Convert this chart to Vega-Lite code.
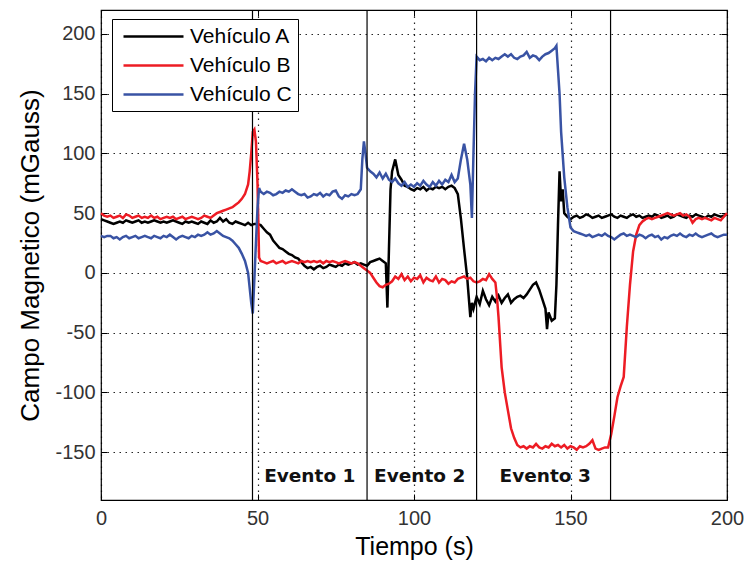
{
  "$schema": "https://vega.github.io/schema/vega-lite/v6.json",
  "width": 626,
  "height": 490,
  "autosize": "none",
  "padding": {"left": 101, "top": 10, "right": 22, "bottom": 70},
  "background": "white",
  "config": {
    "view": {"stroke": "black", "strokeWidth": 1.2},
    "font": "Liberation Sans"
  },
  "datasets": {
    "series": [
      {"t":0,"A":45,"B":50,"C":31},{"t":1,"A":44,"B":48,"C":30},{"t":2,"A":43,"B":47,"C":31},{"t":3,"A":42,"B":48,"C":31},
      {"t":4,"A":41,"B":46,"C":29},{"t":5,"A":42,"B":47,"C":30},{"t":6,"A":43,"B":48,"C":28},{"t":7,"A":42,"B":46,"C":30},
      {"t":8,"A":44,"B":49,"C":31},{"t":9,"A":43,"B":48,"C":29},{"t":10,"A":42,"B":46,"C":30},{"t":11,"A":43,"B":47,"C":31},
      {"t":12,"A":44,"B":48,"C":29},{"t":13,"A":42,"B":46,"C":30},{"t":14,"A":43,"B":47,"C":31},{"t":15,"A":42,"B":46,"C":30},
      {"t":16,"A":43,"B":48,"C":29},{"t":17,"A":44,"B":46,"C":31},{"t":18,"A":43,"B":47,"C":30},{"t":19,"A":42,"B":45,"C":29},
      {"t":20,"A":43,"B":46,"C":31},{"t":21,"A":42,"B":47,"C":30},{"t":22,"A":43,"B":46,"C":32},{"t":23,"A":44,"B":47,"C":30},
      {"t":24,"A":43,"B":45,"C":28},{"t":25,"A":42,"B":46,"C":30},{"t":26,"A":41,"B":47,"C":31},{"t":27,"A":43,"B":45,"C":30},
      {"t":28,"A":42,"B":46,"C":29},{"t":29,"A":43,"B":47,"C":31},{"t":30,"A":42,"B":46,"C":30},{"t":31,"A":41,"B":45,"C":32},
      {"t":32,"A":43,"B":46,"C":31},{"t":33,"A":42,"B":48,"C":32},{"t":34,"A":41,"B":47,"C":34},{"t":35,"A":44,"B":46,"C":32},
      {"t":36,"A":42,"B":48,"C":33},{"t":37,"A":43,"B":50,"C":35},{"t":38,"A":46,"B":51,"C":33},{"t":39,"A":43,"B":52,"C":31},
      {"t":40,"A":45,"B":53,"C":30},{"t":41,"A":42,"B":54,"C":29},{"t":42,"A":41,"B":55,"C":27},{"t":43,"A":43,"B":57,"C":24},
      {"t":44,"A":42,"B":59,"C":21},{"t":45,"A":41,"B":62,"C":16},{"t":46,"A":40,"B":66,"C":10},{"t":47,"A":42,"B":74,"C":0},
      {"t":47.5,"B":85},{"t":48,"A":40,"B":100,"C":-25},{"t":48.5,"B":118,"C":-34},{"t":49,"A":41,"B":120,"C":-5},
      {"t":49.5,"B":110,"C":25},{"t":50,"A":41,"B":75,"C":54},{"t":50.5,"B":13,"C":71},
      {"t":51,"A":40,"B":10,"C":68},{"t":52,"A":37,"B":9,"C":66},{"t":53,"A":34,"B":8,"C":68},{"t":54,"A":32,"B":9,"C":67},
      {"t":55,"A":27,"B":10,"C":65},{"t":56,"A":24,"B":8,"C":66},{"t":57,"A":21,"B":9,"C":68},{"t":58,"A":20,"B":10,"C":67},
      {"t":59,"A":18,"B":8,"C":69},{"t":60,"A":16,"B":9,"C":68},{"t":61,"A":15,"B":10,"C":70},{"t":62,"A":13,"B":9,"C":68},
      {"t":63,"A":12,"B":8,"C":66},{"t":64,"A":9,"B":10,"C":65},{"t":65,"A":6,"B":9,"C":66},{"t":66,"A":4,"B":10,"C":63},
      {"t":67,"A":5,"B":9,"C":64},{"t":68,"A":3,"B":10,"C":66},{"t":69,"A":5,"B":9,"C":65},{"t":70,"A":6,"B":10,"C":67},
      {"t":71,"A":4,"B":8,"C":64},{"t":72,"A":5,"B":10,"C":66},{"t":73,"A":7,"B":9,"C":65},{"t":74,"A":6,"B":10,"C":68},
      {"t":75,"A":5,"B":9,"C":69},{"t":76,"A":7,"B":8,"C":64},{"t":77,"A":6,"B":9,"C":62},{"t":78,"A":8,"B":10,"C":65},
      {"t":79,"A":7,"B":9,"C":64},{"t":80,"A":8,"B":8,"C":66},{"t":81,"A":9,"B":9,"C":65},{"t":82,"A":7,"B":8,"C":66},
      {"t":83,"A":8,"B":6,"C":70},{"t":83.5,"C":95},{"t":84,"A":7,"B":4,"C":110},{"t":84.5,"C":100},
      {"t":85,"A":6,"B":2,"C":88},{"t":86,"A":9,"B":0,"C":85},{"t":87,"A":10,"B":-4,"C":83},{"t":88,"A":11,"B":-8,"C":80},
      {"t":89,"A":12,"B":-11,"C":84},{"t":90,"A":10,"B":-12,"C":79},{"t":91,"A":8,"B":-10,"C":83},{"t":91.5,"A":-29},
      {"t":92,"A":20,"B":-9,"C":78},{"t":92.5,"A":70},{"t":93,"A":85,"B":-7,"C":76},{"t":94,"A":95,"B":-3,"C":79},
      {"t":95,"A":82,"B":-5,"C":75},{"t":96,"A":78,"B":-1,"C":73},{"t":97,"A":73,"B":-6,"C":76},{"t":98,"A":72,"B":-3,"C":72},
      {"t":99,"A":70,"B":-7,"C":74},{"t":100,"A":69,"B":-4,"C":72},{"t":101,"A":71,"B":-5,"C":75},{"t":102,"A":70,"B":-2,"C":73},
      {"t":103,"A":72,"B":-8,"C":77},{"t":104,"A":69,"B":-4,"C":74},{"t":105,"A":71,"B":-6,"C":72},{"t":106,"A":70,"B":-7,"C":76},
      {"t":107,"A":72,"B":-3,"C":73},{"t":108,"A":71,"B":-8,"C":77},{"t":109,"A":72,"B":-5,"C":74},{"t":110,"A":70,"B":-6,"C":78},
      {"t":111,"A":72,"B":-9,"C":76},{"t":112,"A":73,"B":-7,"C":82},{"t":113,"A":71,"B":-8,"C":76},{"t":114,"A":66,"B":-5,"C":79},
      {"t":115,"A":45,"B":-4,"C":95},{"t":116,"A":20,"B":-3,"C":108},{"t":117,"A":-4,"B":-5,"C":95},{"t":118,"A":-37,"B":-4,"C":74},
      {"t":118.5,"A":-25,"C":46},{"t":119,"A":-30,"B":-7,"C":100},{"t":119.5,"C":150},
      {"t":120,"A":-20,"B":-8,"C":181},{"t":121,"A":-26,"B":-7,"C":178},{"t":122,"A":-15,"B":-5,"C":179},{"t":123,"A":-22,"B":-6,"C":177},
      {"t":124,"A":-27,"B":-1,"C":180},{"t":125,"A":-20,"B":-5,"C":178},{"t":126,"A":-24,"B":-8,"C":180},{"t":126.5,"B":-20},
      {"t":127,"A":-19,"B":-37,"C":179},{"t":128,"A":-25,"B":-79,"C":181},{"t":129,"A":-21,"B":-100,"C":183},{"t":130,"A":-18,"B":-115,"C":181},
      {"t":131,"A":-25,"B":-130,"C":183},{"t":132,"A":-22,"B":-138,"C":180},{"t":133,"A":-20,"B":-144,"C":179},{"t":134,"A":-19,"B":-146,"C":181},
      {"t":135,"A":-21,"B":-145,"C":182},{"t":136,"A":-18,"B":-147,"C":185},{"t":137,"A":-14,"B":-145,"C":180},{"t":138,"A":-10,"B":-146,"C":182},
      {"t":139,"A":-8,"B":-143,"C":181},{"t":140,"A":-14,"B":-146,"C":178},{"t":141,"A":-22,"B":-147,"C":181},{"t":142,"A":-30,"B":-145,"C":183},
      {"t":142.5,"A":-47},{"t":143,"A":-33,"B":-146,"C":184},{"t":144,"A":-40,"B":-143,"C":186},{"t":145,"A":-38,"B":-145,"C":188},
      {"t":145.5,"A":-10,"C":190},{"t":146,"A":40,"B":-144,"C":170},{"t":146.5,"A":85,"C":150},{"t":147,"A":60,"B":-146,"C":118},
      {"t":147.5,"A":70},{"t":148,"A":50,"B":-144,"C":80},{"t":149,"A":47,"B":-147,"C":55},{"t":150,"A":45,"B":-145,"C":38},
      {"t":151,"A":47,"B":-146,"C":35},{"t":152,"A":48,"B":-148,"C":34},{"t":153,"A":46,"B":-145,"C":33},{"t":154,"A":47,"B":-146,"C":32},
      {"t":155,"A":49,"B":-145,"C":31},{"t":156,"A":48,"B":-143,"C":32},{"t":157,"A":46,"B":-140,"C":30},{"t":158,"A":47,"B":-147,"C":31},
      {"t":159,"A":48,"B":-148,"C":32},{"t":160,"A":46,"B":-147,"C":31},{"t":161,"A":47,"B":-146,"C":33},{"t":162,"A":48,"B":-146,"C":31},
      {"t":163,"A":49,"B":-135,"C":30},{"t":164,"A":47,"B":-120,"C":28},{"t":165,"A":46,"B":-104,"C":30},{"t":166,"A":48,"B":-95,"C":32},
      {"t":167,"A":47,"B":-87,"C":33},{"t":168,"A":46,"B":-45,"C":31},{"t":169,"A":48,"B":-10,"C":32},{"t":169.5,"B":4},
      {"t":170,"A":49,"B":18,"C":31},{"t":171,"A":47,"B":32,"C":30},{"t":172,"A":48,"B":40,"C":32},{"t":173,"A":46,"B":43,"C":31},
      {"t":174,"A":47,"B":45,"C":29},{"t":175,"A":48,"B":46,"C":31},{"t":176,"A":47,"B":45,"C":32},{"t":177,"A":49,"B":46,"C":30},
      {"t":178,"A":48,"B":47,"C":31},{"t":179,"A":46,"B":48,"C":28},{"t":180,"A":47,"B":49,"C":30},{"t":181,"A":48,"B":50,"C":29},
      {"t":182,"A":46,"B":49,"C":31},{"t":183,"A":47,"B":48,"C":32},{"t":184,"A":49,"B":49,"C":31},{"t":185,"A":48,"B":50,"C":33},
      {"t":186,"A":47,"B":48,"C":31},{"t":187,"A":46,"B":49,"C":30},{"t":188,"A":48,"B":47,"C":32},{"t":189,"A":47,"B":42,"C":31},
      {"t":190,"A":49,"B":45,"C":33},{"t":191,"A":48,"B":46,"C":31},{"t":192,"A":47,"B":45,"C":30},{"t":193,"A":46,"B":46,"C":31},
      {"t":194,"A":48,"B":45,"C":32},{"t":195,"A":47,"B":44,"C":33},{"t":196,"A":49,"B":46,"C":31},{"t":197,"A":48,"B":45,"C":30},
      {"t":198,"A":47,"B":44,"C":31},{"t":199,"A":48,"B":47,"C":32},{"t":200,"A":49,"B":50,"C":32}
    ],
    "eventos": [{"t":48.4},{"t":85},{"t":120},{"t":162.8}],
    "etiquetas": [
      {"t":66.7,"v":-175,"txt":"Evento 1"},
      {"t":101.8,"v":-175,"txt":"Evento 2"},
      {"t":141.9,"v":-175,"txt":"Evento 3"}
    ]
  },
  "layer": [
    {
      "data": {"name": "series"},
      "transform": [
        {"fold": ["A", "B", "C"], "as": ["serie", "v"]},
        {"filter": "isValid(datum.v)"}
      ],
      "mark": {"type": "line", "strokeWidth": 2.5, "interpolate": "linear"},
      "encoding": {
        "x": {
          "field": "t", "type": "quantitative",
          "scale": {"domain": [0, 200], "nice": false, "zero": false},
          "axis": {
            "orient": "bottom", "values": [0, 50, 100, 150, 200],
            "grid": true, "gridColor": "#000", "gridDash": [1.5, 4.5], "gridOpacity": 0.85, "gridWidth": 1.2,
            "tickSize": -6, "tickColor": "black", "domain": false,
            "labelFontSize": 20, "labelColor": "#333", "labelPadding": 14, "labelFont": "Liberation Sans",
            "labelFlush": false,
            "title": "Tiempo (s)", "titleFontSize": 25, "titleFontWeight": "normal", "titleColor": "black",
            "titleFont": "Liberation Sans", "titlePadding": 6
          }
        },
        "y": {
          "field": "v", "type": "quantitative",
          "scale": {"domain": [-190, 220], "nice": false, "zero": false},
          "axis": {
            "orient": "left", "values": [-150, -100, -50, 0, 50, 100, 150, 200],
            "labelExpr": "toString(datum.value)",
            "grid": true, "gridColor": "#000", "gridDash": [1.5, 4.5], "gridOpacity": 0.85, "gridWidth": 1.2,
            "tickSize": -6, "tickColor": "black", "domain": false,
            "labelFontSize": 20, "labelColor": "#333", "labelPadding": 12, "labelFont": "Liberation Sans",
            "labelFlush": false,
            "title": "Campo Magnetico (mGauss)", "titleFontSize": 26, "titleFontWeight": "normal", "titleColor": "black",
            "titleFont": "Liberation Sans", "titlePadding": 11
          }
        },
        "color": {
          "field": "serie", "type": "nominal",
          "scale": {"domain": ["A", "B", "C"], "range": ["#000000", "#ed1c24", "#3953a4"]},
          "legend": {
            "orient": "none", "legendX": 11, "legendY": 9, "title": null,
            "labelExpr": "'Vehículo ' + datum.label",
            "labelFont": "Liberation Sans", "labelFontSize": 21, "labelColor": "black",
            "symbolType": "M-3,0H3", "symbolSize": 400, "symbolStrokeWidth": 2.5,
            "symbolOffset": 24, "labelOffset": 25,
            "strokeColor": "black", "fillColor": "white", "padding": 6, "rowPadding": 7
          }
        }
      }
    },
    {
      "data": {"name": "eventos"},
      "mark": {"type": "rule", "color": "black", "strokeWidth": 1.2},
      "encoding": {
        "x": {
          "field": "t", "type": "quantitative",
          "axis": {
            "orient": "top", "values": [0, 50, 100, 150, 200], "labels": false, "grid": false,
            "domain": false, "tickSize": -6, "tickColor": "black", "title": null
          }
        }
      }
    },
    {
      "data": {"name": "etiquetas"},
      "mark": {"type": "text", "font": "DejaVu Sans", "fontWeight": "bold", "fontSize": 18.5, "baseline": "alphabetic", "color": "#111"},
      "encoding": {
        "x": {"field": "t", "type": "quantitative", "axis": null},
        "y": {
          "field": "v", "type": "quantitative",
          "axis": {
            "orient": "right", "values": [-150, -100, -50, 0, 50, 100, 150, 200], "labels": false, "grid": false,
            "domain": false, "tickSize": -6, "tickColor": "black", "title": null
          }
        },
        "text": {"field": "txt"}
      }
    }
  ],
  "resolve": {"axis": {"x": "independent", "y": "independent"}}
}
